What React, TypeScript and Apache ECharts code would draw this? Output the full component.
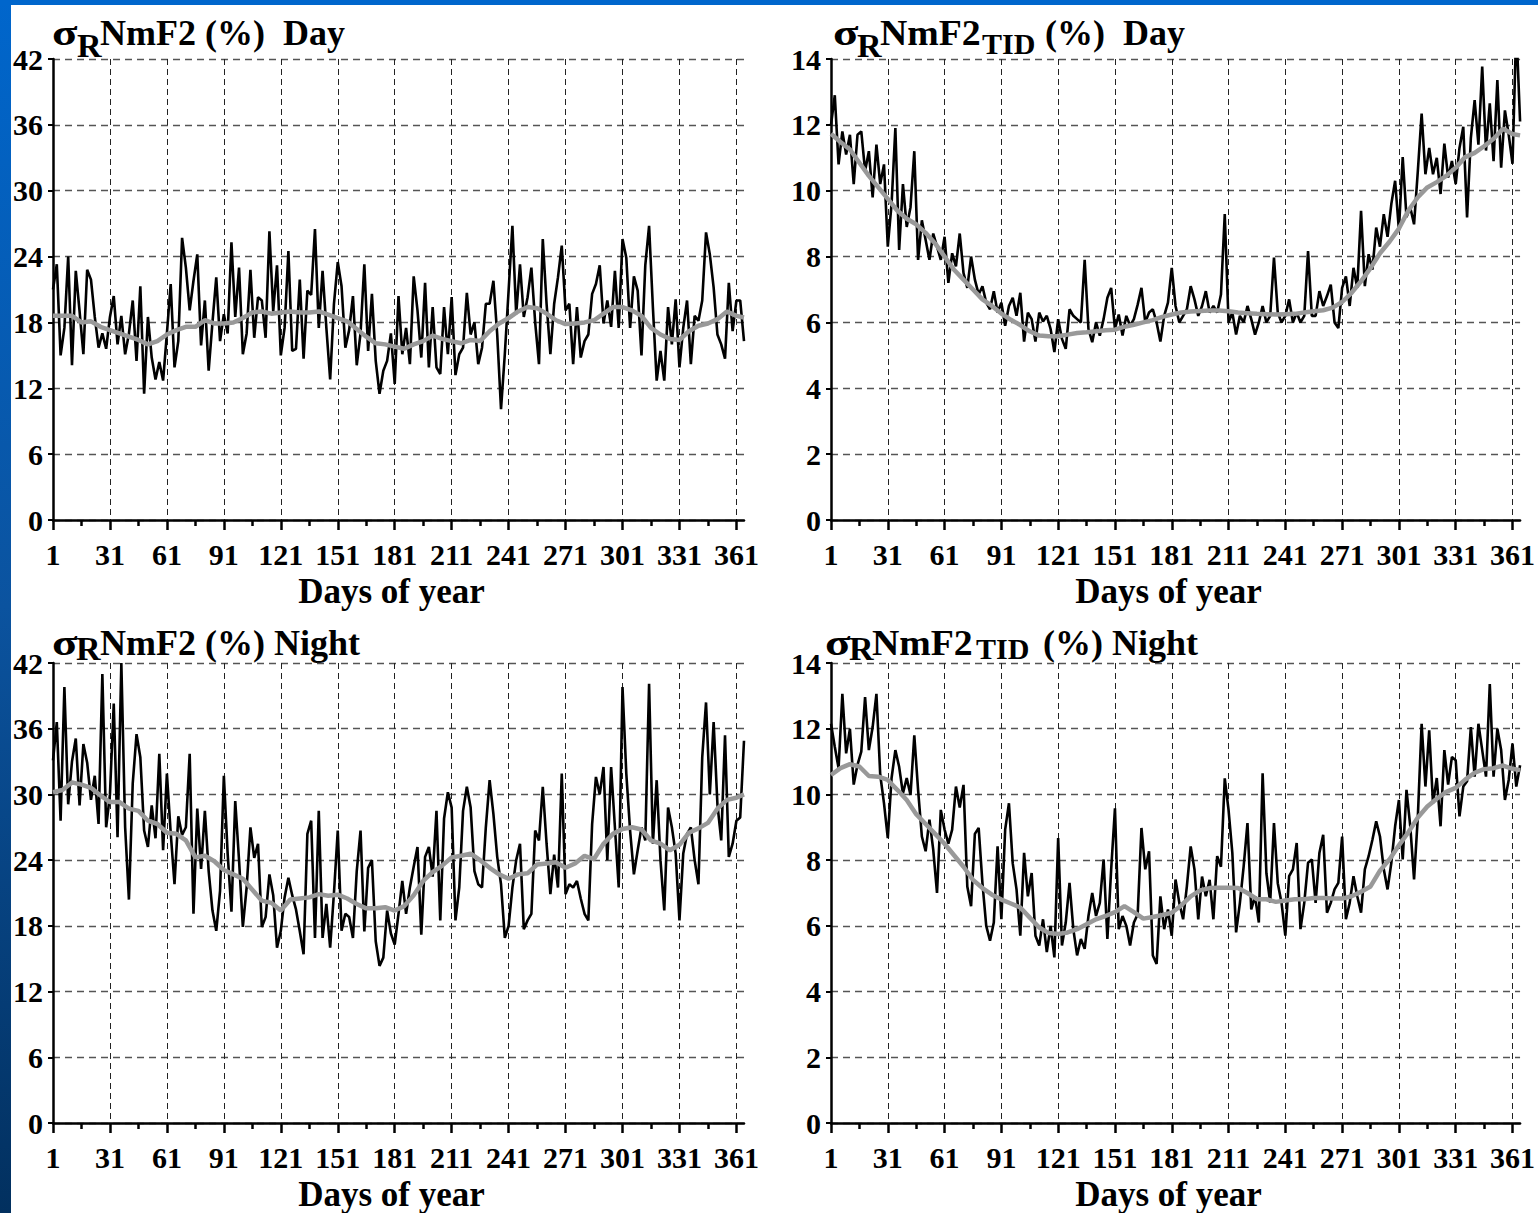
import React, { useEffect, useRef } from "react";
import * as echarts from "echarts";

// ---------- categories / ticks ----------
const DAYS: string[] = Array.from({ length: 365 }, (_, i) => String(i + 1));
const X_TICK_LABELS = ["1", "31", "61", "91", "121", "151", "181", "211", "241", "271", "301", "331", "361"];
const X_MINOR_TICKS = ["16", "46", "76", "106", "136", "166", "196", "226", "256", "286", "316", "346"];
const Y_TICKS_NMF2 = [0, 6, 12, 18, 24, 30, 36, 42];
const Y_TICKS_TID = [0, 2, 4, 6, 8, 10, 12, 14];

// days at which the black (daily) curve is sampled, and the grey (smoothed) curve
const BLACK_DAYS: number[] = Array.from({ length: 183 }, (_, i) => 1 + 2 * i);
const GRAY_DAYS: number[] = Array.from({ length: 73 }, (_, i) => 1 + 5 * i).concat([365]);

// ---------- σR NmF2 (%) Day ----------
const DAY_NMF2_BLACK = [
  21, 23.3, 15, 17.5, 24, 14.1, 22.7, 19, 15.1, 22.8, 21.9, 18.5, 15.7, 17, 15.6,
  18.5, 20.4, 16, 18.6, 15.1, 17, 20, 14.5, 21.3, 11.5, 18.5, 14.8, 12.8, 14.4, 12.7,
  17, 21.5, 13.9, 16.3, 25.7, 23, 19.1, 21.8, 24.2, 15.9, 20, 13.6, 18, 22.1, 16.3,
  18.75, 17, 25.3, 18.5, 23, 15.1, 17, 22.8, 16.6, 20.3, 20, 16.6, 26.3, 19, 23.2,
  15, 17.5, 24.5, 15.4, 15.6, 21.9, 14.7, 20.9, 20.5, 26.5, 17.5, 22.7, 17.5, 12.8, 19.7,
  23.5, 21.3, 15.7, 17.3, 20.4, 14.1, 17, 23.3, 15.4, 20.6, 14.5, 11.5, 13.6, 14.5, 17,
  12.4, 20.4, 15.1, 17.5, 14.2, 22.2, 19.1, 14.8, 21.6, 13.9, 19.4, 13.9, 13.3, 19.4, 15.1,
  20.3, 13.2, 15.1, 15.7, 20.7, 16.9, 18, 14.2, 15.7, 19.7, 19.7, 21.8, 16.9, 10.1, 15.1,
  20.9, 26.8, 18.75, 23.3, 18.5, 20.3, 23, 18, 14.2, 25.6, 19.7, 15.1, 19.7, 22.1, 25,
  19.1, 19.7, 14.2, 19.4, 14.8, 16.3, 16.9, 20.6, 21.5, 23.2, 17.9, 20, 17.6, 22.7, 17.5,
  25.6, 23.9, 17.5, 22.2, 20.9, 15, 23.2, 26.8, 19.4, 12.7, 15.4, 12.7, 19.4, 16, 20.1,
  13.9, 17.5, 20, 14.2, 18.6, 18.15, 20, 26.2, 24.2, 21.2, 16.9, 16, 14.7, 21.6, 17.2,
  20, 20, 16.3,
];
const DAY_NMF2_GRAY = [
  18.6, 18.6, 18.6, 18.0, 18.1, 17.6, 17.3, 17.0, 16.7, 16.4,
  16.0, 16.3, 16.9, 17.3, 17.6, 17.6, 18.2, 17.9, 17.9, 18.0,
  18.4, 18.9, 19.0, 18.8, 18.9, 19.0, 18.9, 18.9, 19.0, 18.7,
  18.4, 18.1, 17.4, 16.7, 16.1, 16.0, 15.8, 15.6, 16.0, 16.3,
  16.8, 16.5, 16.3, 16.1, 16.4, 16.3, 17.2, 17.9, 18.4, 19.0,
  19.4, 19.3, 18.8, 18.2, 17.85, 17.9, 18.0, 18.2, 18.8, 19.4,
  19.4, 19.1, 18.6, 17.5, 16.9, 16.5, 16.4, 17.2, 17.7, 17.9,
  18.3, 19.0, 18.6, 18.45,
];

// ---------- σR NmF2_TID (%) Day ----------
const DAY_TID_BLACK = [
  12.0, 12.9, 10.8, 11.8, 11.1, 11.7, 10.2, 11.7, 11.8, 10.6, 11.2, 9.8, 11.4, 10.2, 10.8,
  8.3, 9.6, 11.9, 8.2, 10.2, 8.9, 9.5, 11.2, 7.9, 9.1, 8.5, 7.9, 8.7, 8.3, 7.9,
  8.6, 7.2, 8.1, 7.7, 8.7, 7.5, 7.05, 8.0, 7.3, 6.85, 7.1, 6.6, 6.4, 6.95, 6.3,
  6.6, 5.9, 6.5, 6.75, 6.2, 6.9, 5.42, 6.3, 6.1, 5.42, 6.3, 6.03, 6.2, 5.8, 5.1,
  6.1, 5.5, 5.2, 6.4, 6.2, 6.1, 6.0, 7.9, 5.8, 5.4, 6.0, 5.6, 6.1, 6.75, 7.05,
  5.8, 6.24, 5.6, 6.2, 5.9, 6.1, 6.54, 7.05, 6.0, 6.3, 6.4, 6.0, 5.42, 6.2, 6.6,
  7.66, 6.5, 6.0, 6.2, 6.4, 7.1, 6.7, 6.2, 6.5, 6.95, 6.3, 6.5, 6.3, 6.85, 9.29,
  6.0, 6.3, 5.63, 6.2, 6.0, 6.5, 6.1, 5.63, 6.0, 6.5, 6.0, 6.2, 7.97, 6.3, 6.0,
  6.2, 6.7, 6.0, 6.3, 6.0, 6.2, 8.17, 6.2, 6.2, 6.95, 6.5, 6.8, 7.15, 6.0, 5.83,
  7.05, 7.4, 6.5, 7.66, 7.05, 9.39, 7.1, 8.07, 7.6, 8.88, 8.3, 9.29, 8.6, 9.6, 10.3,
  8.8, 11.02, 9.2, 9.49, 8.98, 10.6, 12.34, 10.5, 11.3, 10.5, 11.0, 9.9, 11.43, 10.4, 10.9,
  10.2, 11.3, 11.94, 9.19, 11.6, 12.75, 11.4, 13.77, 11.22, 12.65, 10.9, 13.36, 10.7, 12.44, 11.7,
  10.82, 14.98, 12.1,
];
const DAY_TID_GRAY = [
  11.73, 11.48, 11.25, 10.85, 10.45, 10.1, 9.75, 9.4, 9.15, 8.98,
  8.72, 8.4, 8.0, 7.6, 7.3, 7.0, 6.7, 6.5, 6.27, 6.08,
  5.92, 5.73, 5.6, 5.58, 5.58, 5.63, 5.68, 5.7, 5.73, 5.76,
  5.78, 5.87, 5.93, 6.0, 6.07, 6.17, 6.24, 6.3, 6.33, 6.35,
  6.36, 6.36, 6.34, 6.3, 6.28, 6.26, 6.25, 6.24, 6.25, 6.26,
  6.3, 6.34, 6.37, 6.45, 6.62, 6.9, 7.25, 7.65, 8.1, 8.45,
  8.85, 9.4, 9.8, 10.1, 10.26, 10.45, 10.7, 11.02, 11.15, 11.35,
  11.58, 11.88, 11.72, 11.68,
];

// ---------- σR NmF2 (%) Night ----------
const NIGHT_NMF2_BLACK = [
  33.1, 36.6, 27.6, 39.8, 29.1, 33, 35.1, 29, 34.6, 32.9, 29.5, 31.7, 27.3, 41, 27,
  30, 38.3, 26.1, 42, 27, 20.4, 31, 35.5, 33.4, 26.7, 25.2, 29, 26, 33.7, 24.9,
  31.9, 26.5, 21.8, 28, 26.3, 27, 33.7, 19.1, 28.7, 23.2, 28.5, 23, 19.4, 17.55, 21.2,
  31.7, 24.6, 19.3, 29.4, 24, 17.9, 21.5, 27, 24.2, 25.5, 17.9, 18.8, 22.7, 20.8, 16.0,
  17.55, 20.6, 22.4, 20.8, 19.5, 17.5, 15.4, 26.4, 27.6, 16.9, 28.5, 16.9, 20, 16, 21,
  26.7, 17.55, 19.1, 18.8, 16.9, 23, 26.7, 17.5, 23.3, 24, 16.6, 14.35, 15.1, 19.4, 17.3,
  16.3, 19.1, 22.1, 19.1, 21.5, 23.4, 25.2, 17.2, 24.3, 25.2, 22.5, 28.5, 18.5, 27.8, 30.2,
  28.8, 18.5, 21.5, 28.5, 30.7, 28.8, 23, 21.8, 21.5, 27, 31.3, 28.2, 24.3, 21.8, 16.9,
  18, 21.5, 24, 25.5, 17.7, 18.5, 19.1, 26.7, 25.8, 30.7, 25.5, 20.9, 24.5, 21.5, 31.9,
  20.9, 21.8, 21.5, 22.1, 20.5, 19.1, 18.5, 27.3, 31.6, 30, 32.5, 24, 32.5, 27, 21.5,
  39.8, 31.9, 26.7, 22.7, 24.9, 27, 25.8, 40.1, 25.5, 31.3, 24, 19.4, 28.8, 27, 24.6,
  18.5, 24.6, 26.4, 27, 24, 21.8, 33.4, 38.4, 30, 36.6, 29.1, 25.8, 35.4, 24.3, 25.5,
  27.6, 27.9, 34.9,
];
const NIGHT_NMF2_GRAY = [
  30.2, 30.4, 31.1, 30.9, 30.6, 29.9, 29.3, 29.3, 28.7, 28.5,
  27.6, 27.3, 26.5, 26.4, 25.8, 24.25, 24.4, 23.9, 23.1, 22.7,
  22.3, 21.3, 20.3, 20.1, 19.4, 20.4, 20.5, 20.6, 20.9, 20.75,
  20.85, 20.5, 20.0, 19.6, 19.6, 19.7, 19.4, 19.8, 20.8, 22.1,
  22.9, 23.5, 24.25, 24.4, 24.6, 24.0, 23.3, 22.7, 22.3, 22.7,
  22.8, 23.6, 23.7, 23.8, 23.3, 23.7, 24.4, 24.1, 25.5, 26.4,
  26.85, 27.0, 26.8, 25.8, 25.5, 24.9, 25.4, 26.5, 26.9, 27.4,
  28.7, 29.5, 29.7, 30.0,
];

// ---------- σR NmF2_TID (%) Night ----------
const NIGHT_TID_BLACK = [
  12.15, 11.45, 10.8, 13.06, 11.25, 12, 10.3, 10.9, 11.3, 12.96, 11.35, 12.05, 13.06, 10.6, 9.73,
  8.67, 10.5, 11.35, 10.84, 10.03, 10.5, 9.98, 11.8, 10.14, 8.72, 8.27, 9.23, 8.32, 7.0, 9.53,
  8.93, 8.5, 8.93, 10.24, 9.6, 10.29, 7.2, 6.6, 8.8, 8.98, 7.3, 6.0, 5.55, 6.1, 8.42,
  6.2, 8.93, 9.73, 7.9, 7.11, 5.7, 8.22, 6.9, 7.61, 5.7, 5.4, 6.2, 5.2, 6.0, 5.04,
  8.67, 5.4, 6.1, 7.31, 5.9, 5.1, 5.6, 5.3, 6.3, 7.0, 6.3, 6.7, 8.02, 5.6, 7.72,
  9.58, 5.9, 6.3, 6.0, 5.4, 6.1, 6.35, 8.98, 7.72, 8.27, 5.1, 4.84, 6.9, 5.9, 6.5,
  5.7, 7.41, 6.7, 6.2, 7.21, 8.42, 7.72, 6.2, 7.5, 6.9, 7.4, 6.2, 8.12, 7.8, 10.49,
  9.53, 8.22, 5.8, 6.7, 7.82, 9.13, 6.5, 6.9, 6.1, 10.64, 7.6, 6.71, 9.13, 7.3, 6.7,
  5.7, 7.51, 7.72, 8.52, 5.9, 6.7, 7.92, 8.02, 6.7, 8.22, 8.77, 6.4, 6.7, 7.11, 7.31,
  8.72, 6.2, 6.7, 7.51, 6.9, 6.4, 7.72, 8.12, 8.62, 9.18, 8.72, 7.72, 7.11, 7.92, 9.03,
  9.83, 8.02, 10.14, 9.03, 7.41, 9.33, 12.15, 10.24, 11.95, 9.73, 10.5, 9.03, 11.35, 10.3, 11.14,
  11.04, 9.33, 10.24, 10.4, 12.05, 10.54, 12.15, 11.35, 10.54, 13.36, 10.54, 12, 11.35, 9.83, 10.44,
  11.55, 10.24, 10.89,
];
const NIGHT_TID_GRAY = [
  10.59, 10.8, 10.92, 10.85, 10.56, 10.54, 10.44, 10.14, 9.83, 9.4,
  9.1, 8.8, 8.5, 8.15, 7.8, 7.4, 7.15, 6.95, 6.8, 6.68,
  6.56, 6.25, 5.95, 5.78, 5.75, 5.8, 5.9, 6.05, 6.2, 6.3,
  6.42, 6.6, 6.42, 6.22, 6.27, 6.33, 6.4, 6.62, 6.9, 7.08,
  7.15, 7.16, 7.16, 7.15, 7.0, 6.81, 6.81, 6.73, 6.77, 6.81,
  6.81, 6.85, 6.85, 6.83, 6.83, 6.9, 7.04, 7.2, 7.68, 8.02,
  8.45, 8.85, 9.3, 9.63, 9.87, 10.08, 10.2, 10.45, 10.66, 10.77,
  10.8, 10.88, 10.78, 10.74,
];

const X_TITLE = "Days of year";
const FONT = "'Liberation Serif', 'Times New Roman', serif";

type Panel = {
  left: number;
  top: number;
  yTicks: number[];
  black: number[];
  gray: number[];
};

const PANELS: Panel[] = [
  { left: 53, top: 59, yTicks: Y_TICKS_NMF2, black: DAY_NMF2_BLACK, gray: DAY_NMF2_GRAY },
  { left: 831, top: 59, yTicks: Y_TICKS_TID, black: DAY_TID_BLACK, gray: DAY_TID_GRAY },
  { left: 53, top: 663, yTicks: Y_TICKS_NMF2, black: NIGHT_NMF2_BLACK, gray: NIGHT_NMF2_GRAY },
  { left: 831, top: 663, yTicks: Y_TICKS_TID, black: NIGHT_TID_BLACK, gray: NIGHT_TID_GRAY },
];
const GRID_W = 691;
const GRID_H = 461;

function txt(text: string, x: number, y: number, size: number, scaleX = 1) {
  return {
    type: "text",
    x,
    y,
    scaleX,
    silent: true,
    style: {
      text,
      fill: "#000",
      font: `bold ${size}px ${FONT}`,
      textAlign: "left",
      textVerticalAlign: "middle",
    },
  };
}

function buildOption() {
  const majorTick = (_i: number, v: string) => X_TICK_LABELS.includes(v);
  const minorTick = (_i: number, v: string) => X_MINOR_TICKS.includes(v);

  const grid = PANELS.map((p) => ({ left: p.left, top: p.top, width: GRID_W, height: GRID_H }));
  const xAxis: any[] = [];
  const yAxis: any[] = [];
  const series: any[] = [];

  PANELS.forEach((p, i) => {
    xAxis.push({
      type: "category",
      gridIndex: i,
      data: DAYS,
      boundaryGap: false,
      position: "bottom",
      axisLine: { show: true, onZero: false, lineStyle: { color: "#000", width: 2.5 } },
      axisTick: { show: true, interval: majorTick, length: 10, lineStyle: { color: "#000", width: 2.5 } },
      axisLabel: {
        interval: majorTick,
        margin: 19,
        fontFamily: FONT,
        fontWeight: "bold",
        fontSize: 30,
        color: "#000",
      },
      splitLine: { show: true, interval: majorTick, lineStyle: { color: "#222", width: 1, type: [6, 4] } },
      name: X_TITLE,
      nameLocation: "middle",
      nameGap: 54,
      nameTextStyle: {
        fontFamily: FONT,
        fontWeight: "bold",
        fontSize: 35,
        color: "#000",
        padding: [0, 14, 0, 0],
      },
    });
    xAxis.push({
      type: "category",
      gridIndex: i,
      data: DAYS,
      boundaryGap: false,
      position: "bottom",
      axisLine: { show: false },
      axisLabel: { show: false },
      splitLine: { show: false },
      axisTick: { show: true, interval: minorTick, length: 6, lineStyle: { color: "#000", width: 2.5 } },
    });
    const t = p.yTicks;
    yAxis.push({
      type: "value",
      gridIndex: i,
      min: t[0],
      max: t[t.length - 1],
      interval: t[1] - t[0],
      axisLine: { show: true, onZero: false, lineStyle: { color: "#000", width: 2.5 } },
      axisTick: { show: true, length: 5, lineStyle: { color: "#000", width: 2 } },
      axisLabel: { margin: 10, fontFamily: FONT, fontWeight: "bold", fontSize: 30, color: "#000" },
      splitLine: { show: true, lineStyle: { color: "#555", width: 1.3, type: [7, 5] } },
    });
    series.push({
      type: "line",
      xAxisIndex: 2 * i,
      yAxisIndex: i,
      data: BLACK_DAYS.map((d, k) => [d - 1, p.black[k]]),
      symbol: "none",
      silent: true,
      lineStyle: { color: "#000", width: 2.6 },
    });
    series.push({
      type: "line",
      xAxisIndex: 2 * i,
      yAxisIndex: i,
      data: GRAY_DAYS.map((d, k) => [d - 1, p.gray[k]]),
      symbol: "none",
      silent: true,
      lineStyle: { color: "#999999", width: 4.5 },
    });
  });

  const graphic: any[] = [
    {
      type: "rect",
      silent: true,
      z: -10,
      shape: { x: 0, y: 0, width: 11, height: 1213 },
      style: {
        fill: {
          type: "linear",
          x: 0,
          y: 0,
          x2: 0,
          y2: 1,
          colorStops: [
            { offset: 0, color: "#0066cc" },
            { offset: 0.5, color: "#0b539f" },
            { offset: 1, color: "#02305f" },
          ],
        },
      },
    },
    { type: "rect", silent: true, z: -10, shape: { x: 0, y: 0, width: 1538, height: 5 }, style: { fill: "#0066cc" } },
    // top-left title
    txt("σ", 52, 33, 36, 1.3),
    txt("R", 77, 45.5, 34),
    txt("NmF2 (%)  Day", 100, 33, 36),
    // top-right title
    txt("σ", 833, 33, 36, 1.3),
    txt("R", 857, 45.5, 34),
    txt("NmF2", 880, 33, 36, 1.05),
    txt("TID", 982, 43, 30),
    txt("(%)  Day", 1045, 33, 36),
    // bottom-left title
    txt("σ", 52, 643, 36, 1.3),
    txt("R", 76, 648.5, 34),
    txt("NmF2 (%) Night", 100, 643, 36),
    // bottom-right title
    txt("σ", 825, 643, 36, 1.3),
    txt("R", 849, 648.5, 34),
    txt("NmF2", 872, 643, 36, 1.05),
    txt("TID", 976, 648, 30),
    txt("(%) Night", 1043, 643, 36),
  ];

  return {
    animation: false,
    backgroundColor: "#ffffff",
    textStyle: { fontFamily: FONT },
    grid,
    xAxis,
    yAxis,
    series,
    graphic,
  };
}

export default function App() {
  const ref = useRef<HTMLDivElement>(null);
  useEffect(() => {
    if (!ref.current) return;
    const chart = echarts.init(ref.current, undefined, { renderer: "svg" });
    chart.setOption(buildOption() as any);
    return () => chart.dispose();
  }, []);
  return (
    <div
      ref={ref}
      style={{ position: "fixed", left: 0, top: 0, width: 1538, height: 1213, background: "#fff" }}
    />
  );
}
